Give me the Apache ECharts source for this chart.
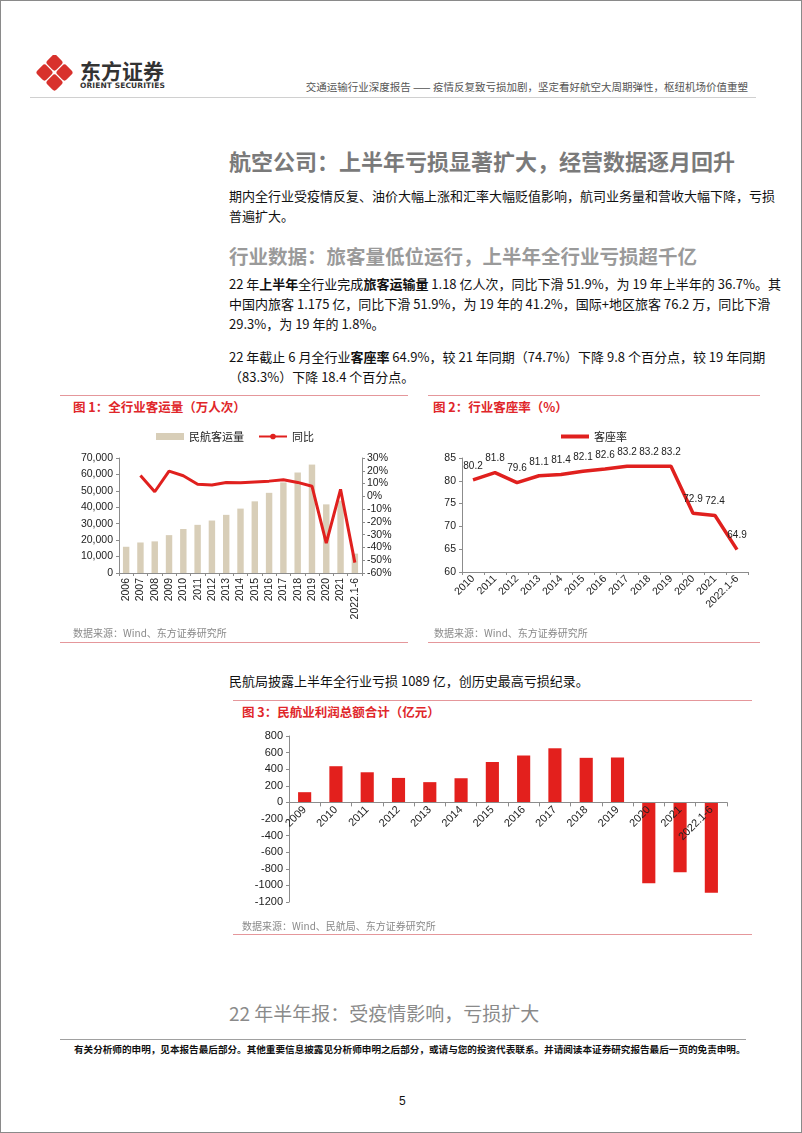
<!DOCTYPE html>
<html><head><meta charset="utf-8">
<script src="https://cdn.jsdelivr.net/npm/echarts@6/dist/echarts.min.js"></script>
<style>
html,body{margin:0;padding:0;background:#fff;}
body{width:802px;height:1133px;position:relative;overflow:hidden;font-family:"Noto Sans CJK SC","Noto Sans",sans-serif;}
.frame{position:absolute;left:0;top:0;width:800px;height:1131px;border:1px solid #8a8a8a;}
.abs{position:absolute;white-space:nowrap;}
.p{position:absolute;left:229px;width:520px;font-size:13px;color:#111;line-height:20px;}
.p div{white-space:nowrap;}
.j{text-align:justify;text-align-last:justify;}
.ct{position:absolute;font-size:12.5px;font-weight:bold;color:#e0262a;white-space:nowrap;}
.src{position:absolute;font-size:10px;color:#8a8a8a;white-space:nowrap;}
.hl{position:absolute;height:0;border-top:1.5px solid #e5979b;}
b{font-weight:bold;}
</style></head>
<body>
<div class="frame"></div>
<svg class="abs" style="left:36px;top:55px" width="38" height="36" viewBox="0 0 38 36">
  <g fill="#d8312c">
    <rect x="12" y="1" width="13" height="13" rx="3" transform="rotate(45 18.5 7.5)"/>
    <rect x="2" y="11" width="13" height="13" rx="3" transform="rotate(45 8.5 17.5)"/>
    <rect x="22" y="11" width="13" height="13" rx="3" transform="rotate(45 28.5 17.5)"/>
    <rect x="12" y="21" width="13" height="13" rx="3" transform="rotate(45 18.5 27.5)"/>
  </g>
</svg>
<div class="abs" style="left:80px;top:55px;font-size:21px;font-weight:bold;color:#333;letter-spacing:0px;">东方证券</div>
<div class="abs" style="left:80px;top:81px;font-size:7.5px;font-weight:bold;color:#333;font-family:'DejaVu Sans',sans-serif;letter-spacing:0.1px;">ORIENT SECURITIES</div>
<div class="abs" style="right:54px;top:79px;font-size:10.5px;color:#555;">交通运输行业深度报告 —— 疫情反复致亏损加剧，坚定看好航空大周期弹性，枢纽机场价值重塑</div>
<div class="abs" style="left:30px;top:97px;width:726px;border-top:1.5px solid #d0d0d0;"></div>

<div class="abs" style="left:229px;top:146px;font-size:22px;font-weight:bold;color:#7a7a7a;line-height:28px;">航空公司：上半年亏损显著扩大，经营数据逐月回升</div>
<div class="p" style="top:186px;">
  <div class="j">期内全行业受疫情反复、油价大幅上涨和汇率大幅贬值影响，航司业务量和营收大幅下降，亏损</div>
  <div>普遍扩大。</div>
</div>
<div class="abs" style="left:229px;top:242px;font-size:19.5px;font-weight:bold;color:#9a9a9a;line-height:28px;">行业数据：旅客量低位运行，上半年全行业亏损超千亿</div>
<div class="p" style="top:274px;">
  <div class="j">22 年<b>上半年</b>全行业完成<b>旅客运输量</b> 1.18 亿人次，同比下滑 51.9%，为 19 年上半年的 36.7%。其</div>
  <div class="j">中国内旅客 1.175 亿，同比下滑 51.9%，为 19 年的 41.2%，国际+地区旅客 76.2 万，同比下滑</div>
  <div>29.3%，为 19 年的 1.8%。</div>
</div>
<div class="p" style="top:347px;">
  <div class="j">22 年截止 6 月全行业<b>客座率</b> 64.9%，较 21 年同期（74.7%）下降 9.8 个百分点，较 19 年同期</div>
  <div>（83.3%）下降 18.4 个百分点。</div>
</div>

<div class="hl" style="left:60px;top:395px;width:348px;"></div>
<div class="hl" style="left:428px;top:395px;width:332px;"></div>
<div class="ct" style="left:73px;top:397px;">图 1：全行业客运量（万人次）</div>
<div class="ct" style="left:433px;top:397px;">图 2：行业客座率（%）</div>
<div id="c1" class="abs" style="left:60px;top:395px;width:350px;height:247px;"></div>
<div id="c2" class="abs" style="left:428px;top:395px;width:332px;height:247px;"></div>
<div class="src" style="left:73px;top:625px;">数据来源：Wind、东方证券研究所</div>
<div class="src" style="left:434px;top:625px;">数据来源：Wind、东方证券研究所</div>
<div class="hl" style="left:60px;top:642px;width:348px;"></div>
<div class="hl" style="left:428px;top:642px;width:332px;"></div>

<div class="p" style="top:671px;"><div>民航局披露上半年全行业亏损 1089 亿，创历史最高亏损纪录。</div></div>
<div class="hl" style="left:233px;top:700px;width:519px;"></div>
<div class="ct" style="left:242px;top:702px;">图 3：民航业利润总额合计（亿元）</div>
<div id="c3" class="abs" style="left:233px;top:700px;width:519px;height:234px;"></div>
<div class="src" style="left:242px;top:918px;">数据来源：Wind、民航局、东方证券研究所</div>
<div class="hl" style="left:233px;top:934px;width:519px;"></div>

<div class="abs" style="left:229px;top:999px;font-size:19px;color:#8a8a8a;line-height:28px;">22 年半年报：受疫情影响，亏损扩大</div>
<div class="abs" style="left:60px;top:1039px;width:686px;border-top:1.5px solid #a0a0a0;"></div>
<div class="abs" style="left:74px;top:1042px;font-size:9.6px;font-weight:bold;color:#111;">有关分析师的申明，见本报告最后部分。其他重要信息披露见分析师申明之后部分，或请与您的投资代表联系。并请阅读本证券研究报告最后一页的免责申明。</div>
<div class="abs" style="left:399px;top:1094px;font-size:12px;color:#111;font-family:'Liberation Sans',Arial,sans-serif;">5</div>

<script>
// Chart 1 data
const years1 = ['2006','2007','2008','2009','2010','2011','2012','2013','2014','2015','2016','2017','2018','2019','2020','2021','2022.1-6'];
const passengers = [15968,18576,19251,23052,26769,29317,31936,35397,39195,43618,48796,55156,61174,65993,41778,44056,11800];
const yoy = [null,16.3,3.6,19.7,16.1,9.5,8.9,10.8,10.7,11.3,11.9,13.0,10.9,7.9,-36.7,5.5,-51.9];
const leftTicks = {min:0,max:70000,interval:10000};
const rightTicks = {min:-60,max:30,interval:10};
// Chart 2 data
const years2 = ['2010','2011','2012','2013','2014','2015','2016','2017','2018','2019','2020','2021','2022.1-6'];
const loadFactor = [80.2,81.8,79.6,81.1,81.4,82.1,82.6,83.2,83.2,83.2,72.9,72.4,64.9];
const lfTicks = {min:60,max:85,interval:5};
// Chart 3 data
const years3 = ['2009','2010','2011','2012','2013','2014','2015','2016','2017','2018','2019','2020','2021','2022.1-6'];
const profit = [123,436,363,295,244,291,487,565,652,537,541,-974,-842,-1089];
const profitTicks = {min:-1200,max:800,interval:200};

const FONT = '"Liberation Sans", Arial, sans-serif';
const RED = '#e0201e';
const axisLine = {show:true,lineStyle:{color:'#8c8c8c',width:1}};
const axisTick = {show:true,length:3,lineStyle:{color:'#8c8c8c'}};
const lbl = {color:'#222',fontSize:10.5,fontFamily:FONT};

const c1 = echarts.init(document.getElementById('c1'));
c1.setOption({
  animation:false,
  legend:{top:31,left:'center',itemGap:14,itemWidth:28,itemHeight:7,
    textStyle:{fontSize:11,color:'#222',fontFamily:'"Noto Sans CJK SC",sans-serif'},
    data:[{name:'民航客运量',icon:'rect'},{name:'同比'}]},
  grid:{left:59,right:48,top:63,bottom:69},
  xAxis:{type:'category',data:years1,axisLine:axisLine,axisTick:{show:true,length:3,lineStyle:{color:'#8c8c8c'}},
    axisLabel:Object.assign({},lbl,{rotate:90,interval:0,fontSize:10.5,margin:5})},
  yAxis:[
    {type:'value',min:leftTicks.min,max:leftTicks.max,interval:leftTicks.interval,axisLine:axisLine,axisTick:axisTick,splitLine:{show:false},
     axisLabel:Object.assign({},lbl,{fontSize:10.5,margin:6,formatter:v=>v.toLocaleString('en-US')})},
    {type:'value',min:rightTicks.min,max:rightTicks.max,interval:rightTicks.interval,axisLine:axisLine,axisTick:axisTick,splitLine:{show:false},
     axisLabel:Object.assign({},lbl,{fontSize:10.5,margin:5,formatter:v=>v+'%'})}
  ],
  series:[
    {name:'民航客运量',type:'bar',data:passengers,barWidth:'45%',itemStyle:{color:'#d8ceb8'}},
    {name:'同比',type:'line',yAxisIndex:1,data:yoy,symbol:'none',lineStyle:{color:RED,width:3},itemStyle:{color:RED},z:5}
  ]
});

const c2 = echarts.init(document.getElementById('c2'));
c2.setOption({
  animation:false,
  legend:{top:31,left:'center',itemWidth:28,itemHeight:7,
    textStyle:{fontSize:11,color:'#222',fontFamily:'"Noto Sans CJK SC",sans-serif'},
    data:[{name:'客座率',icon:'path://M0,0 L28,0 L28,4 L0,4 Z'}]},
  grid:{left:34,right:12,top:63,bottom:70},
  xAxis:{type:'category',data:years2,axisLine:axisLine,axisTick:axisTick,
    axisLabel:Object.assign({},lbl,{rotate:45,interval:0,margin:5})},
  yAxis:{type:'value',min:lfTicks.min,max:lfTicks.max,interval:lfTicks.interval,axisLine:axisLine,axisTick:axisTick,splitLine:{show:false},
    axisLabel:Object.assign({},lbl,{margin:6})},
  series:[{name:'客座率',type:'line',data:loadFactor,symbol:'circle',symbolSize:0.01,showSymbol:true,
    lineStyle:{color:RED,width:3.5},itemStyle:{color:RED},
    label:{show:true,position:'top',distance:9,color:'#222',fontSize:10,fontFamily:FONT}}]
});

const c3 = echarts.init(document.getElementById('c3'));
c3.setOption({
  animation:false,
  grid:{left:56,right:25,top:36,bottom:32},
  xAxis:{type:'category',data:years3,z:10,axisLine:Object.assign({onZero:true},axisLine),axisTick:{show:true,length:4,lineStyle:{color:'#8c8c8c'}},
    axisLabel:Object.assign({},lbl,{rotate:45,interval:0,margin:-94,fontSize:11})},
  yAxis:{type:'value',min:profitTicks.min,max:profitTicks.max,interval:profitTicks.interval,axisLine:axisLine,axisTick:axisTick,splitLine:{show:false},
    axisLabel:Object.assign({},lbl,{margin:6,fontSize:11,formatter:v=>String(v)})},
  series:[{type:'bar',data:profit,barWidth:'42%',itemStyle:{color:'#e3201d'},z:2}]
});
</script>
</body></html>
